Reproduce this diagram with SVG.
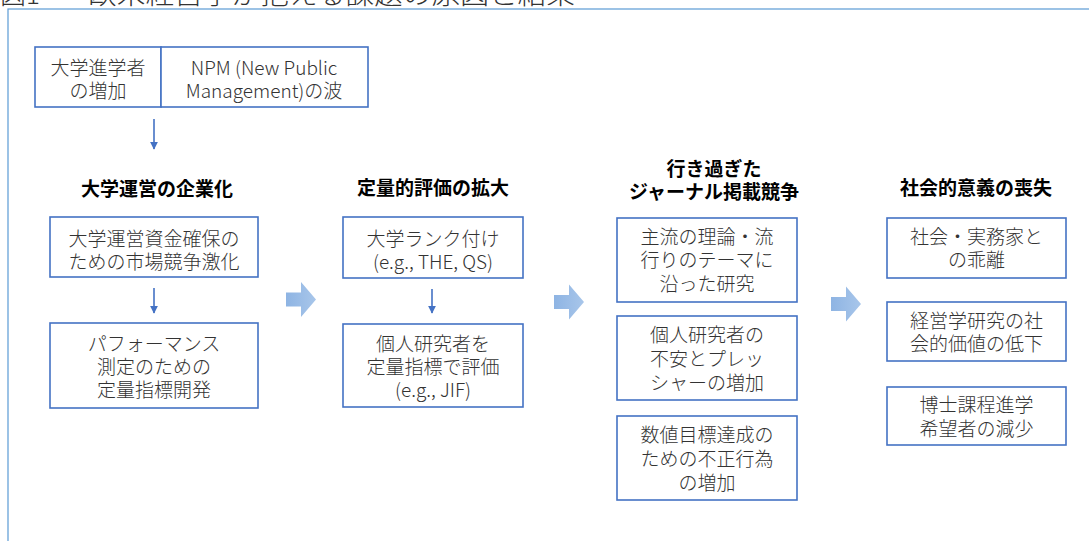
<svg xmlns="http://www.w3.org/2000/svg" width="1089" height="541" viewBox="0 0 1089 541">
<style>
.box{fill:#fff;stroke:#4472C4;stroke-width:1.6}
.t{font-family:"Noto Sans CJK JP","Noto Sans",sans-serif;font-size:19px;font-weight:300;fill:#333;text-anchor:middle;dominant-baseline:central}
.h{font-family:"Noto Sans CJK JP","Noto Sans",sans-serif;font-size:19px;font-weight:bold;fill:#000;text-anchor:middle;dominant-baseline:central}
.title{font-family:"Noto Sans CJK JP","Noto Sans",sans-serif;font-size:26px;font-weight:300;fill:#333}
.conn{stroke:#4472C4;stroke-width:1.6;fill:none;marker-end:url(#ah)}
.big{fill:url(#bg)}
</style>
<defs>
<marker id="ah" viewBox="0 0 10 10" refX="9" refY="5" markerWidth="5" markerHeight="5" orient="auto" markerUnits="strokeWidth">
<path d="M0,0 L10,5 L0,10 Z" fill="#4472C4"/>
</marker>
<linearGradient id="bg" x1="0" y1="0" x2="1" y2="0">
<stop offset="0" stop-color="#8EB4E3"/>
<stop offset="1" stop-color="#A8C6EA"/>
</linearGradient>
<path id="bigarrow" d="M0,-7 H15 V-17.5 L30,0 L15,17.5 V7 H0 Z"/>
</defs>
<text class="title" x="0" y="4">図1</text>
<text class="title" x="88" y="4" textLength="487" lengthAdjust="spacingAndGlyphs">欧米経営学が抱える課題の原因と結果</text>
<rect x="8" y="9" width="1100" height="560" fill="none" stroke="#5B9BD5" stroke-width="1.2"/>
<g id="top">
<rect class="box" x="35" y="47" width="126" height="60"/>
<rect class="box" x="161" y="47" width="207" height="60"/>
<text class="t" x="98" y="66">大学進学者</text>
<text class="t" x="98" y="89">の増加</text>
<text class="t" x="264" y="66">NPM (New Public</text>
<text class="t" x="264" y="89">Management)の波</text>
</g>
<g id="connectors">
<line class="conn" x1="154" y1="119" x2="154" y2="149"/>
<line class="conn" x1="154" y1="288" x2="154" y2="313"/>
<line class="conn" x1="432" y1="289" x2="432" y2="313"/>
<use href="#bigarrow" class="big" transform="translate(286,299.5)"/>
<use href="#bigarrow" class="big" transform="translate(554,302)"/>
<use href="#bigarrow" class="big" transform="translate(831,304)"/>
</g>
<g id="col1">
<text class="h" x="157" y="187">大学運営の企業化</text>
<g id="n1a">
<rect class="box" x="50" y="217" width="208" height="60"/>
<text class="t" x="154" y="237">大学運営資金確保の</text>
<text class="t" x="154" y="260">ための市場競争激化</text>
</g>
<g id="n1b">
<rect class="box" x="50" y="323" width="208" height="85"/>
<text class="t" x="154" y="342">パフォーマンス</text>
<text class="t" x="154" y="365">測定のための</text>
<text class="t" x="154" y="388">定量指標開発</text>
</g>
</g>
<g id="col2">
<text class="h" x="433" y="186">定量的評価の拡大</text>
<g id="n2a">
<rect class="box" x="343" y="217" width="180" height="61"/>
<text class="t" x="433" y="237">大学ランク付け</text>
<text class="t" x="433" y="260">(e.g., THE, QS)</text>
</g>
<g id="n2b">
<rect class="box" x="343" y="324" width="180" height="83"/>
<text class="t" x="433" y="342">個人研究者を</text>
<text class="t" x="433" y="365">定量指標で評価</text>
<text class="t" x="433" y="388">(e.g., JIF)</text>
</g>
</g>
<g id="col3">
<text class="h" x="714" y="167">行き過ぎた</text>
<text class="h" x="714" y="190">ジャーナル掲載競争</text>
<g id="n3a">
<rect class="box" x="617" y="218" width="180" height="84"/>
<text class="t" x="707" y="235">主流の理論・流</text>
<text class="t" x="707" y="258">行りのテーマに</text>
<text class="t" x="707" y="282">沿った研究</text>
</g>
<g id="n3b">
<rect class="box" x="617" y="316" width="180" height="84"/>
<text class="t" x="707" y="333">個人研究者の</text>
<text class="t" x="707" y="357">不安とプレッ</text>
<text class="t" x="707" y="381">シャーの増加</text>
</g>
<g id="n3c">
<rect class="box" x="617" y="416" width="180" height="84"/>
<text class="t" x="707" y="433">数値目標達成の</text>
<text class="t" x="707" y="457">ための不正行為</text>
<text class="t" x="707" y="481">の増加</text>
</g>
</g>
<g id="col4">
<text class="h" x="976" y="186">社会的意義の喪失</text>
<g id="n4a">
<rect class="box" x="887" y="218" width="179" height="60"/>
<text class="t" x="976.5" y="235">社会・実務家と</text>
<text class="t" x="976.5" y="258">の乖離</text>
</g>
<g id="n4b">
<rect class="box" x="887" y="302" width="179" height="59"/>
<text class="t" x="976.5" y="319">経営学研究の社</text>
<text class="t" x="976.5" y="342">会的価値の低下</text>
</g>
<g id="n4c">
<rect class="box" x="887" y="387" width="179" height="58"/>
<text class="t" x="976.5" y="403">博士課程進学</text>
<text class="t" x="976.5" y="427">希望者の減少</text>
</g>
</g>
</svg>
